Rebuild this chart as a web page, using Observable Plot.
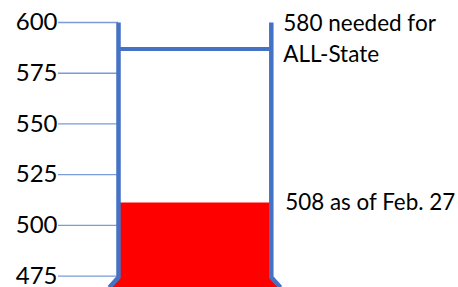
<!DOCTYPE html>
<html>
<head>
<meta charset="utf-8">
<script src="https://cdn.jsdelivr.net/npm/d3@7"></script>
<script src="https://cdn.jsdelivr.net/npm/@observablehq/plot@0.6"></script>
<style>
  html, body { margin: 0; padding: 0; background: #fff; }
  #chart svg { display: block; }
</style>
</head>
<body>
<div id="chart"></div>
<script>
// Data
const yTicks = [475, 500, 525, 550, 575, 600];
const scaleMin = 469.4;          // bottom edge of the picture
const scaleMax = 600;            // top of the tube
const bulbStart = 474.5;         // where the tube flares into the bulb
const goalValue = 587;           // drawn level of the "needed" line
const currentValue = 511;        // drawn level of the red fill
const goalLabel = "580 needed for\nALL-State";
const currentLabel = "508 as of Feb. 27";

const flare = 0.06;
const fillShape = [
  {y: scaleMin, x1: -flare, x2: 1 + flare},
  {y: bulbStart, x1: 0, x2: 1},
  {y: currentValue, x1: 0, x2: 1}
];
const leftWall = [
  {x: 0, y: scaleMax}, {x: 0, y: bulbStart}, {x: -flare, y: scaleMin}
];
const rightWall = [
  {x: 1, y: scaleMax}, {x: 1, y: bulbStart}, {x: 1 + flare, y: scaleMin}
];

const blue = "#4472C4";
const font = "Lato, 'Open Sans', sans-serif";

const chart = Plot.plot({
  width: 458,
  height: 287,
  marginTop: 22,
  marginBottom: 0,
  marginLeft: 118,
  marginRight: 187.2,
  style: {fontFamily: font, color: "#000", background: "#fff"},
  x: {domain: [0, 1], axis: null},
  y: {domain: [scaleMin, scaleMax]},
  marks: [
    Plot.areaX(fillShape, {y: "y", x1: "x1", x2: "x2", fill: "#FF0000", curve: "linear"}),
    Plot.axisY({
      ticks: yTicks,
      tickSize: 60,
      tickPadding: 1,
      stroke: "#7A9BD8",
      strokeWidth: 1.3,
      fontSize: 24,
      fill: "#000",
      label: null
    }),
    Plot.line(leftWall, {x: "x", y: "y", stroke: blue, strokeWidth: 4.5, strokeLinecap: "butt"}),
    Plot.line(rightWall, {x: "x", y: "y", stroke: blue, strokeWidth: 4.5, strokeLinecap: "butt"}),
    Plot.ruleY([goalValue], {x1: 0, x2: 1, stroke: blue, strokeWidth: 4}),
    Plot.text([goalLabel], {
      x: 1, y: scaleMax, dx: 12, dy: -14,
      textAnchor: "start", lineAnchor: "top", lineHeight: 1.38,
      fontSize: 22.5, fill: "#000"
    }),
    Plot.text([currentLabel], {
      x: 1, y: currentValue, dx: 14,
      textAnchor: "start", lineAnchor: "middle",
      fontSize: 22.4, fill: "#000"
    })
  ]
});
document.getElementById("chart").appendChild(chart);
</script>
</body>
</html>
